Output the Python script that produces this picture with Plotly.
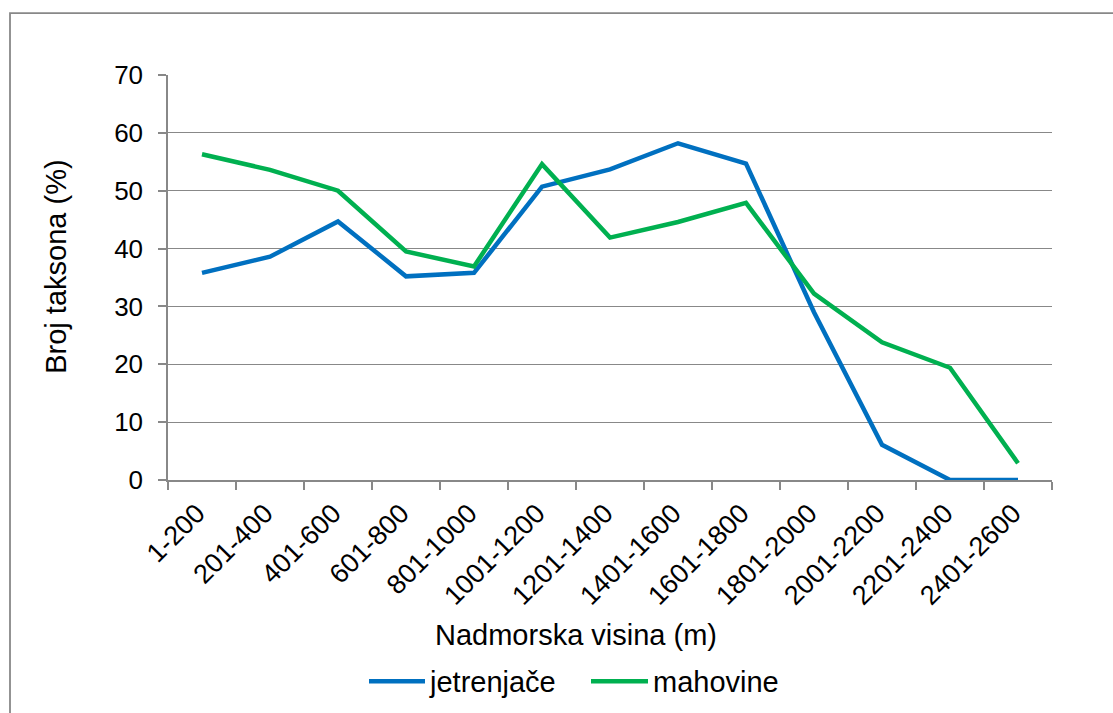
import plotly.graph_objects as go

# Altitude classes (m) and share of taxa (%) per class
visine = ["1-200", "201-400", "401-600", "601-800", "801-1000", "1001-1200",
          "1201-1400", "1401-1600", "1601-1800", "1801-2000", "2001-2200",
          "2201-2400", "2401-2600"]
jetrenjace = [35.8, 38.6, 44.7, 35.2, 35.8, 50.7, 53.7, 58.2, 54.7, 29.0, 6.1, 0.0, 0.0]
mahovine = [56.3, 53.6, 50.0, 39.5, 36.9, 54.6, 41.9, 44.6, 47.9, 32.2, 23.8, 19.4, 2.9]
y_ticks = [0, 10, 20, 30, 40, 50, 60, 70]

W, H = 1113, 713
L, R, T, B = 168, 61, 75, 232.5
FONT = "Liberation Sans, Arial, sans-serif"
BLUE = "#0070C0"
GREEN = "#00B050"
GRID = "#888888"


def px_x(p):
    return (p - L) / (W - L - R)


def px_y(q):
    return (H - B - q) / (H - T - B)


fig = go.Figure()
fig.add_trace(go.Scatter(x=visine, y=jetrenjace, mode="lines", name="jetrenjače",
                         line=dict(color=BLUE, width=4.5)))
fig.add_trace(go.Scatter(x=visine, y=mahovine, mode="lines", name="mahovine",
                         line=dict(color=GREEN, width=4.5)))

fig.update_layout(
    width=W, height=H,
    margin=dict(l=L, r=R, t=T, b=B, autoexpand=False),
    paper_bgcolor="white", plot_bgcolor="white",
    showlegend=False,
    font=dict(family=FONT, color="black"),
)
fig.update_xaxes(
    type="category", range=[-0.5, len(visine) - 0.5],
    showgrid=False, showline=True, linecolor=GRID, linewidth=1.5,
    ticks="outside", ticklen=8, tickcolor=GRID, tickwidth=1.5,
    tickson="boundaries", tickangle=-45, ticklabelstandoff=5, ticklabelshift=-5,
    tickfont=dict(size=27, family=FONT, color="black"),
)
fig.update_yaxes(
    range=[0, 70], tickvals=y_ticks,
    showgrid=True, gridcolor=GRID, gridwidth=1.3,
    showline=True, linecolor=GRID, linewidth=1.5,
    ticks="outside", ticklen=8, tickcolor=GRID, tickwidth=1.5,
    ticklabelstandoff=10, zeroline=False,
    tickfont=dict(size=26, family=FONT, color="black"),
)

# Axis titles
fig.add_annotation(text="Nadmorska visina (m)", xref="paper", yref="paper",
                   x=px_x(576), y=px_y(636), xanchor="center", yanchor="middle",
                   showarrow=False, font=dict(size=29, family=FONT, color="black"))
fig.add_annotation(text="Broj taksona (%)", xref="paper", yref="paper",
                   x=px_x(56), y=px_y(267), xanchor="center", yanchor="middle",
                   textangle=-90, showarrow=False,
                   font=dict(size=29, family=FONT, color="black"))

# Legend row below the axis title
for x0, x1, tx, col, label in [(369, 425, 427, BLUE, "jetrenjače"),
                               (591, 648, 651, GREEN, "mahovine")]:
    fig.add_shape(type="line", xref="paper", yref="paper",
                  x0=px_x(x0), x1=px_x(x1), y0=px_y(682), y1=px_y(682),
                  line=dict(color=col, width=4.5))
    fig.add_annotation(text=label, xref="paper", yref="paper",
                       x=px_x(tx), y=px_y(683), xanchor="left", yanchor="middle",
                       showarrow=False, font=dict(size=29, family=FONT, color="black"))

# Chart frame
fig.add_shape(type="rect", xref="paper", yref="paper",
              x0=px_x(10), x1=px_x(1125), y0=px_y(725), y1=px_y(13),
              line=dict(color=GRID, width=1.8), fillcolor="rgba(0,0,0,0)", layer="below")

fig.write_html("out.html")
